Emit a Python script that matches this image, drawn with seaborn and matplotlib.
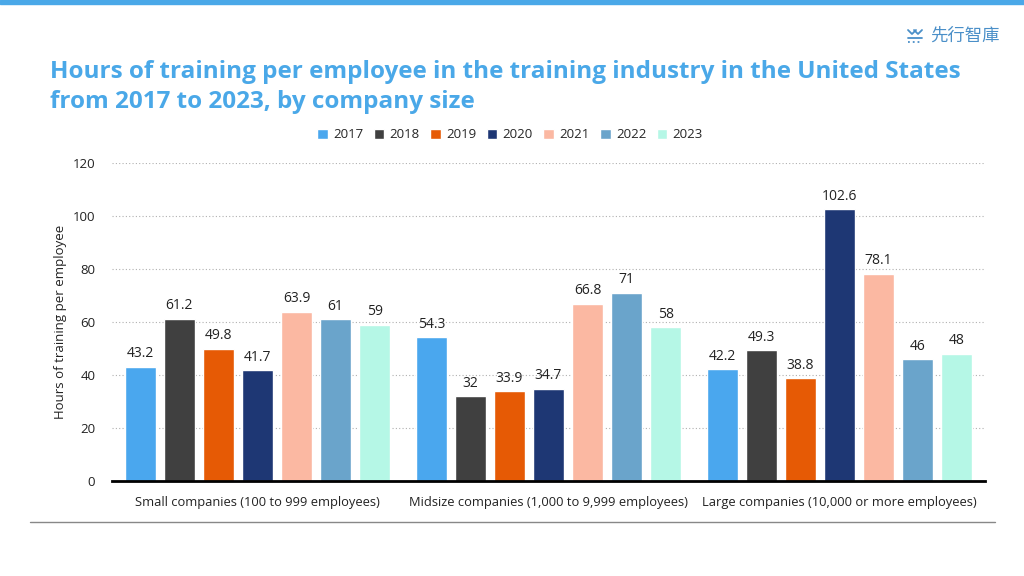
import numpy as np
import seaborn as sns
import matplotlib.pyplot as plt
import pandas as pd

categories = ['Small companies (100 to 999 employees)',
              'Midsize companies (1,000 to 9,999 employees)',
              'Large companies (10,000 or more employees)']
years = ['2017', '2018', '2019', '2020', '2021', '2022', '2023']
small = [43.2, 61.2, 49.8, 41.7, 63.9, 61, 59]
midsize = [54.3, 32, 33.9, 34.7, 66.8, 71, 58]
large = [42.2, 49.3, 38.8, 102.6, 78.1, 46, 48]
colors = ['#4aa7ee', '#404040', '#e65a05', '#1e3774', '#fbb8a2', '#6aa4cb', '#b5f7e6']

rows = []
for cat, vals in zip(categories, [small, midsize, large]):
    for yr, v in zip(years, vals):
        rows.append({'category': cat, 'year': yr, 'hours': v})
df = pd.DataFrame(rows)

sns.set_style('white')
plt.rcParams['font.family'] = ['Open Sans', 'Noto Sans CJK TC', 'DejaVu Sans']

fig = plt.figure(figsize=(10.24, 5.76), dpi=100)
ax = fig.add_axes([112 / 1024, 1 - 481 / 576, 873 / 1024, 318 / 576])

sns.barplot(data=df, x='category', y='hours', hue='year', palette=colors,
            saturation=1, width=0.94, gap=0.2, ax=ax, legend=True)

for cont in ax.containers:
    ax.bar_label(cont, labels=[f'{v:g}' for v in cont.datavalues], padding=4,
                 fontsize=10, color='#222222')

ax.set_ylim(0, 120)
ax.set_yticks(range(0, 121, 20))
ax.set_xlim(-0.5, 2.5)
ax.yaxis.grid(True, linestyle=(0, (1, 2)), color='#b0b0b0', linewidth=0.8)
ax.set_axisbelow(True)
for s in ['left', 'right', 'top']:
    ax.spines[s].set_visible(False)
ax.spines['bottom'].set_color('black')
ax.spines['bottom'].set_linewidth(2)
ax.tick_params(axis='both', length=0, labelsize=9.5, colors='#222222')
ax.tick_params(axis='x', pad=11, labelsize=9.3)
ax.tick_params(axis='y', pad=12)
ax.set_xlabel('')
ax.set_ylabel('Hours of training per employee', fontsize=9.5, color='#222222', labelpad=4)

leg = ax.legend(loc='center', bbox_to_anchor=((510 - 112) / 873, (481 - 135) / 318),
                ncol=7, frameon=False, fontsize=9.5, handlelength=0.8,
                handleheight=0.8, columnspacing=0.8, handletextpad=0.4)

fig.text(50 / 1024, 1 - 87 / 576,
         'Hours of training per employee in the training industry in the United States\nfrom 2017 to 2023, by company size',
         fontsize=17.5, fontweight='bold', color='#4aa8e8', va='center', ha='left', linespacing=1.3)

# logo
logo_c = '#4a8fc8'
fig.text(1000 / 1024, 1 - 36 / 576, '先行智庫', fontsize=12.5, color=logo_c,
         ha='right', va='center')
W, H = 1024, 576
icon = [
    ([908, 912, 916], [30, 34, 30], '-'),
    ([914, 918, 922], [30, 34, 30], '-'),
    ([908, 922], [38, 38], '-'),
    ([908, 922], [42, 42], ':'),
]
for xs, ys, ls in icon:
    fig.lines.append(plt.Line2D([x / W for x in xs], [1 - y / H for y in ys],
                                transform=fig.transFigure, color=logo_c,
                                linewidth=1.3, linestyle=ls))

fig.patches.append(plt.Rectangle((0, 1 - 4 / 576), 1, 4 / 576, transform=fig.transFigure,
                                 color='#4aa8e8', zorder=5))
fig.lines.append(plt.Line2D([30 / 1024, 995 / 1024], [1 - 522 / 576] * 2,
                            transform=fig.transFigure, color='#888888', linewidth=1))

plt.savefig('out.png', dpi=100)
